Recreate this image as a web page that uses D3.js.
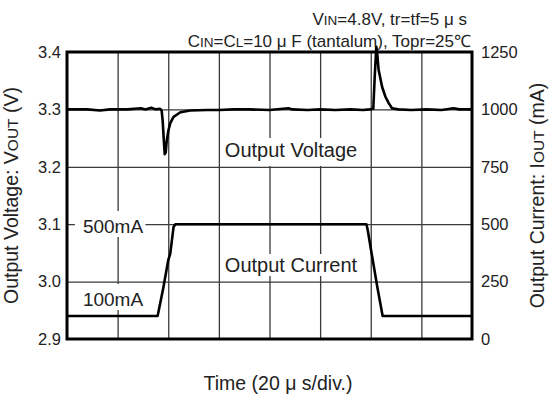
<!DOCTYPE html>
<html>
<head>
<meta charset="utf-8">
<script src="https://cdn.jsdelivr.net/npm/d3@7"></script>
<style>
  body { margin: 0; background: #fff; }
  svg { display: block; font-family: "Liberation Sans", Arial, sans-serif; }
</style>
</head>
<body>
<svg id="chart"></svg>
<script>
const width = 551, height = 396;
const margin = {top: 52, right: 79, bottom: 57, left: 67};
const INNER_WIDTH = width - margin.left - margin.right;
const INNER_HEIGHT = height - margin.top - margin.bottom;

// time in us (20 us / div)
const voltTime = [0, 8, 13, 17, 24, 29.2, 31, 33.3, 35, 36.8,
  37.4, 37.8, 38.2, 38.6, 39.0, 39.4, 40.1, 40.8, 42.1, 44.8,
  48.7, 55.3, 60, 66, 72, 80, 87.5, 89, 95, 100,
  106, 112, 117, 119.5, 121.0, 121.6, 122.2, 122.6, 123.1, 124.5,
  125.8, 127.1, 128.4, 130.9, 136, 142, 148, 152.7, 155, 160];
const voltValue = [3.300, 3.300, 3.298, 3.300, 3.300, 3.302, 3.300, 3.303, 3.300, 3.301,
  3.298, 3.280, 3.250, 3.222, 3.225, 3.245, 3.264, 3.276, 3.287, 3.295,
  3.298, 3.299, 3.299, 3.300, 3.300, 3.299, 3.302, 3.300, 3.299, 3.300,
  3.299, 3.300, 3.299, 3.300, 3.301, 3.360, 3.409, 3.395, 3.369, 3.339,
  3.322, 3.311, 3.302, 3.300, 3.299, 3.300, 3.299, 3.302, 3.300, 3.300];

const currTime = [0, 35.8, 38.0, 40.0, 40.8, 42.1, 42.8, 118.3, 118.8, 119.9, 120.8, 122.7, 124.7, 160];
const currValue = [100, 100, 220, 343, 372, 488, 500, 500, 475, 402, 343, 220, 100, 100];

const voltTicks = [2.9, 3.0, 3.1, 3.2, 3.3, 3.4];
const currTicks = [0, 250, 500, 750, 1000, 1250];
const timeGrid = [20, 40, 60, 80, 100, 120, 140];

const svg = d3.select("#chart")
  .attr("width", width)
  .attr("height", height)
  .attr("viewBox", [0, 0, width, height]);

const g = svg.append("g")
  .attr("transform", `translate(${margin.left},${margin.top})`);

const x = d3.scaleLinear().domain([0, 160]).range([0, INNER_WIDTH]);
const yV = d3.scaleLinear().domain([2.9, 3.4]).range([INNER_HEIGHT, 0]);
const yI = d3.scaleLinear().domain([0, 1250]).range([INNER_HEIGHT, 0]);

// grid
let gridX = g.append("g")
  .attr("transform", `translate(0,${INNER_HEIGHT})`)
  .call(d3.axisBottom(x).tickValues(timeGrid).tickSize(-INNER_HEIGHT).tickFormat(""));
let gridY = g.append("g")
  .call(d3.axisLeft(yV).tickValues([3.0, 3.1, 3.2, 3.3]).tickSize(-INNER_WIDTH).tickFormat(""));
[gridX, gridY].forEach(gr => {
  gr.select(".domain").remove();
  gr.selectAll("line").style("stroke", "#3a3a3a").style("stroke-width", 1.3);
});

// labels sitting on white boxes; x/baseY in page pixels, pad = [left, right, top, bottom]
function boxedText(tx, baseY, txt, size, pad) {
  let t = g.append("text")
    .attr("x", tx - margin.left).attr("y", baseY - margin.top)
    .attr("text-anchor", "middle")
    .style("font-size", size + "px")
    .style("fill", "#222")
    .text(txt);
  let bb = t.node().getBBox();
  g.insert("rect", () => t.node())
    .attr("x", bb.x - pad[0]).attr("y", bb.y - pad[2])
    .attr("width", bb.width + pad[0] + pad[1]).attr("height", bb.height + pad[2] + pad[3])
    .style("fill", "#fff");
}
boxedText(291, 157, "Output Voltage", 20, [2, 2, 1, 5]);
boxedText(291, 272, "Output Current", 20, [2, 2, 0, 0]);
boxedText(113, 233, "500mA", 19, [8, 2, 5, 0]);
boxedText(113, 306, "100mA", 19, [8, 2, 5, 0]);

// traces
let lineV = d3.line().x((d, i) => x(voltTime[i])).y(d => yV(d));
let lineI = d3.line().x((d, i) => x(currTime[i])).y(d => yI(d));

g.append("path")
  .attr("d", lineI(currValue))
  .style("fill", "none").style("stroke", "#000")
  .style("stroke-width", 2.6).style("stroke-linejoin", "round");

g.append("path")
  .attr("d", lineV(voltValue))
  .style("fill", "none").style("stroke", "#000")
  .style("stroke-width", 2.6).style("stroke-linejoin", "round");

// frame
g.append("rect")
  .attr("width", INNER_WIDTH).attr("height", INNER_HEIGHT)
  .style("fill", "none").style("stroke", "#000").style("stroke-width", 3);

// axes
let axL = g.append("g")
  .call(d3.axisLeft(yV).tickValues(voltTicks).tickSize(0).tickPadding(6).tickFormat(d3.format(".1f")));
let axR = g.append("g")
  .attr("transform", `translate(${INNER_WIDTH},0)`)
  .call(d3.axisRight(yI).tickValues(currTicks).tickSize(0).tickPadding(9).tickFormat(d3.format("d")));
[axL, axR].forEach(ax => {
  ax.select(".domain").remove();
  ax.selectAll("text")
    .style("font-size", "16.5px")
    .style("font-family", "Liberation Sans, Arial, sans-serif")
    .style("fill", "#222");
});

// axis titles
svg.append("text")
  .attr("transform", `translate(18,${margin.top + INNER_HEIGHT / 2}) rotate(-90)`)
  .attr("text-anchor", "middle")
  .style("font-size", "19.5px").style("fill", "#222")
  .call(t => {
    t.append("tspan").text("Output Voltage: V");
    t.append("tspan").style("font-size", "15.5px").text("OUT");
    t.append("tspan").text(" (V)");
  });

svg.append("text")
  .attr("transform", `translate(544,${margin.top + INNER_HEIGHT / 2}) rotate(-90)`)
  .attr("text-anchor", "middle")
  .style("font-size", "19.5px").style("fill", "#222")
  .call(t => {
    t.append("tspan").text("Output Current: I");
    t.append("tspan").style("font-size", "15.5px").text("OUT");
    t.append("tspan").text(" (mA)");
  });

svg.append("text")
  .attr("x", 278).attr("y", 390)
  .attr("text-anchor", "middle")
  .style("font-size", "19.5px").style("fill", "#222")
  .text("Time (20 \u03bc s/div.)");

// conditions
svg.append("text")
  .attr("x", 467).attr("y", 25)
  .attr("text-anchor", "end")
  .style("font-size", "17px").style("fill", "#222")
  .call(t => {
    t.append("tspan").text("V");
    t.append("tspan").style("font-size", "13.5px").text("IN");
    t.append("tspan").text("=4.8V, tr=tf=5 \u03bc s");
  });

svg.append("text")
  .attr("x", 471).attr("y", 47)
  .attr("text-anchor", "end")
  .style("font-size", "17px").style("fill", "#222")
  .call(t => {
    t.append("tspan").text("C");
    t.append("tspan").style("font-size", "13.5px").text("IN");
    t.append("tspan").text("=C");
    t.append("tspan").style("font-size", "13.5px").text("L");
    t.append("tspan").text("=10 \u03bc F (tantalum), Topr=25\u2103");
  });
</script>
</body>
</html>
